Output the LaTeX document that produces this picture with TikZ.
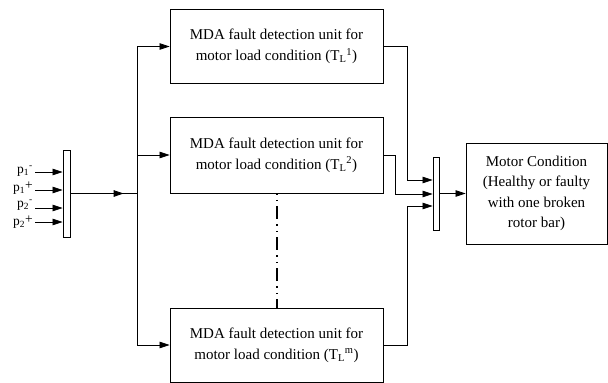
\documentclass[tikz,border=0pt]{standalone}
\usepackage{fontspec}
\setmainfont{Liberation Serif}
\usetikzlibrary{arrows.meta,decorations.markings}
\begin{document}
\begin{tikzpicture}[x=1pt,y=-1pt,
  unitbox/.style={draw, line width=0.9pt, minimum width=213pt, minimum height=74pt,
    align=center, inner sep=0pt, font=\fontsize{15}{21}\selectfont},
  condbox/.style={draw, line width=0.9pt, minimum width=141pt, minimum height=101pt,
    align=center, inner sep=0pt, font=\fontsize{15}{20.5}\selectfont},
  barbox/.style={draw, line width=0.9pt, inner sep=0pt},
  conn/.style={line width=0.8pt},
  arr/.style={conn, -{Triangle[length=10pt,width=6.5pt]}},
  plabel/.style={anchor=east, inner sep=0pt, font=\fontsize{13.5}{13.5}\selectfont},
  dots/.style={line width=2pt, dash pattern=on 1.5pt off 5pt on 1.5pt off 5pt on 13pt off 5pt}
]
\useasboundingbox (0,0) rectangle (608,383);

% boxes
\node[unitbox] (b1) at (276.5,46.5) {MDA fault detection unit for\\motor load condition (T\textsubscript{L}\textsuperscript{1})};
\node[unitbox, minimum height=76pt] (b2) at (276.5,155) {MDA fault detection unit for\\motor load condition (T\textsubscript{L}\textsuperscript{2})};
\node[unitbox] (b3) at (276.5,345) {MDA fault detection unit for\\motor load condition (T\textsubscript{L}\textsuperscript{m})};
\node[condbox] (mc) at (536.5,193.5) {Motor Condition\\(Healthy or faulty\\with one broken\\rotor bar)};

% bars
\node[barbox, minimum width=7pt, minimum height=87pt] (inbar) at (66.5,193.5) {};
\node[barbox, minimum width=6pt, minimum height=73pt] (outbar) at (436,193.5) {};

% inputs
\coordinate (i1) at (35,172);
\coordinate (i2) at (35,190);
\coordinate (i3) at (35,208);
\coordinate (i4) at (35,222);
\draw[arr] (i1) -- (i1 -| inbar.west);
\draw[arr] (i2) -- (i2 -| inbar.west);
\draw[arr] (i3) -- (i3 -| inbar.west);
\draw[arr] (i4) -- (i4 -| inbar.west);
\node[plabel] (l1) at (33,171) {p\textsubscript{1}\textsuperscript{-}};
\node[plabel] (l2) at (33,188) {p\textsubscript{1}\raisebox{1.5pt}{+}};
\node[plabel] (l3) at (33,205) {p\textsubscript{2}\textsuperscript{-}};
\node[plabel] (l4) at (33,222) {p\textsubscript{2}\raisebox{1.5pt}{+}};

% distribution
\coordinate (jn) at (137,193.5);
\coordinate (t1) at (137,46.5);
\coordinate (t2) at (137,155);
\coordinate (t3) at (137,345);
\draw[conn, postaction={decorate}, decoration={markings,
  mark=at position 0.8 with {\arrow{Triangle[length=10pt,width=6.5pt]}}}] (inbar.east |- jn) -- (jn);
\draw[conn] (t1) -- (t3);
\draw[arr] (t1) -- (t1 -| b1.west);
\draw[arr] (t2) -- (t2 -| b2.west);
\draw[arr] (t3) -- (t3 -| b3.west);

% dash-dot continuation
\draw[dots] (b2.south) -- (b3.north);

% collection
\coordinate (c1) at (407,46.5);
\coordinate (d1) at (407,180);
\coordinate (c2) at (395,155);
\coordinate (d2) at (395,194);
\coordinate (c3) at (407,345);
\coordinate (d3) at (407,206);
\draw[arr] (c1 -| b1.east) -- (c1) -- (d1) -- (d1 -| outbar.west);
\draw[arr] (c2 -| b2.east) -- (c2) -- (d2) -- (d2 -| outbar.west);
\draw[arr] (c3 -| b3.east) -- (c3) -- (d3) -- (d3 -| outbar.west);

% output
\draw[arr] (outbar.east) -- (mc.west);
\end{tikzpicture}
\end{document}
